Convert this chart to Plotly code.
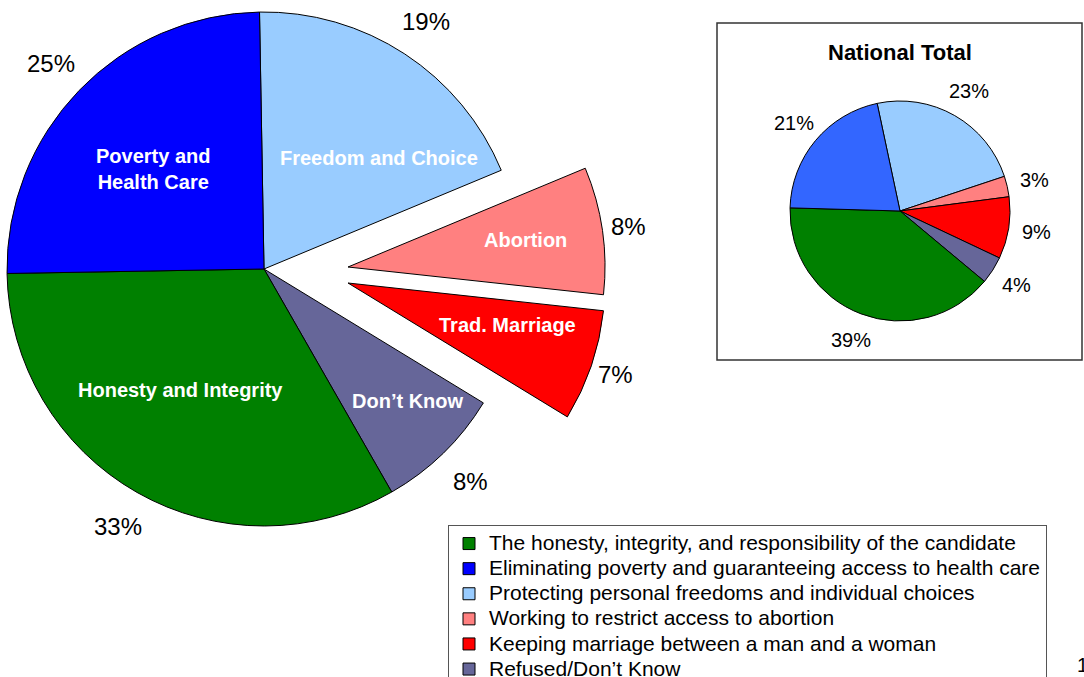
import math
import plotly.graph_objects as go

W, H = 1084, 677
FONT = "Liberation Sans, Arial, sans-serif"
CLEAR = "rgba(0,0,0,0)"

# Answer categories, in clockwise slice order from 12 o'clock
categories = [
    "Protecting personal freedoms and individual choices",
    "Working to restrict access to abortion",
    "Keeping marriage between a man and a woman",
    "Refused/Don\u2019t Know",
    "The honesty, integrity, and responsibility of the candidate",
    "Eliminating poverty and guaranteeing access to health care",
]
short_names = [
    "Freedom and Choice",
    "Abortion",
    "Trad. Marriage",
    "Don\u2019t Know",
    "Honesty and Integrity",
    "Poverty and<br>Health Care",
]

# Group results (large pie), percent
group_values = [19, 8, 7, 8, 33, 25]
group_colors = ["#99CCFF", "#FF8080", "#FF0000", "#666699", "#008000", "#0000FF"]

# National total (small pie), percent
national_values = [23, 3, 9, 4, 39, 21]
national_colors = ["#99CCFF", "#FF8080", "#FF0000", "#666699", "#008000", "#3366FF"]

# Legend order and swatch colours
legend_order = [4, 5, 0, 1, 2, 3]
legend_colors = ["#99CCFF", "#FF8080", "#FF0000", "#666699", "#008000", "#0000FF"]

# Geometry (pixels): large pie centre/radius, exploded slice centres, small pie
BIG_R = 257
BIG_ROT = -1
big_centre = (264, 269)
exploded = {1: (348, 267), 2: (348, 283)}
SMALL_R = 110
SMALL_ROT = -12
small_centre = (900, 211)

# Name label placement inside each slice: (radius fraction, angle offset in degrees)
name_place = [(0.62, 12.8), (0.70, -0.4), (0.64, -4.0), (0.76, -3.3), (0.57, 5.0), (0.58, -2.0)]
# Distance of percentage labels beyond the rim (px)
BIG_GAP, EXPLODED_GAP, SMALL_GAP = 39, 26, 28


def domain_px(cx, cy, r):
    """Pie domain (paper fractions) for a circle centred at (cx, cy) px with radius r px."""
    return dict(x=[(cx - r) / W, (cx + r) / W], y=[1 - (cy + r) / H, 1 - (cy - r) / H])


def mid_angles(values, rotation):
    """Clockwise mid-angle of each slice, degrees from 12 o'clock."""
    total = sum(values)
    mids, acc = [], 0.0
    for v in values:
        mids.append(rotation + 360.0 * (acc + v / 2.0) / total)
        acc += v
    return mids


def polar_paper(centre, dist, angle_deg):
    a = math.radians(angle_deg)
    px = centre[0] + dist * math.sin(a)
    py = centre[1] - dist * math.cos(a)
    return px / W, 1 - py / H


fig = go.Figure()


def add_pie(values, colors, keep, dom, rotation):
    n = len(values)
    shown = [i in keep for i in range(n)]
    fig.add_trace(go.Pie(
        labels=categories,
        values=values,
        sort=False,
        direction="clockwise",
        rotation=rotation,
        domain=dom,
        marker=dict(
            colors=[colors[i] if shown[i] else CLEAR for i in range(n)],
            line=dict(color="black", width=[1 if shown[i] else 0 for i in range(n)]),
        ),
        textinfo="none",
        showlegend=False,
        hoverinfo="skip",
    ))


# Large pie body (exploded slices left out)
add_pie(group_values, group_colors, {0, 3, 4, 5}, domain_px(*big_centre, BIG_R), BIG_ROT)
# Exploded slices, each drawn on its own displaced pie
for idx, centre in exploded.items():
    add_pie(group_values, group_colors, {idx}, domain_px(*centre, BIG_R), BIG_ROT)
# Small pie: national total
add_pie(national_values, national_colors, set(range(6)), domain_px(*small_centre, SMALL_R), SMALL_ROT)

annotations = []

# Slice names and percentages for the large pie
for i, mid in enumerate(mid_angles(group_values, BIG_ROT)):
    centre = exploded.get(i, big_centre)
    frac, offset = name_place[i]
    x, y = polar_paper(centre, frac * BIG_R, mid + offset)
    annotations.append(dict(
        text=f"<b>{short_names[i]}</b>", x=x, y=y, xref="paper", yref="paper",
        xanchor="center", yanchor="middle", showarrow=False,
        font=dict(family=FONT, size=20, color="white"),
    ))
    gap = EXPLODED_GAP if i in exploded else BIG_GAP
    x, y = polar_paper(centre, BIG_R + gap, mid)
    annotations.append(dict(
        text=f"{group_values[i]}%", x=x, y=y, xref="paper", yref="paper",
        xanchor="center", yanchor="middle", showarrow=False,
        font=dict(family=FONT, size=24, color="black"),
    ))

# Percentages for the small pie
for i, mid in enumerate(mid_angles(national_values, SMALL_ROT)):
    x, y = polar_paper(small_centre, SMALL_R + SMALL_GAP, mid)
    annotations.append(dict(
        text=f"{national_values[i]}%", x=x, y=y, xref="paper", yref="paper",
        xanchor="center", yanchor="middle", showarrow=False,
        font=dict(family=FONT, size=20, color="black"),
    ))

annotations += [
    dict(text="<b>National Total</b>", x=900 / W, y=1 - 52 / H, xref="paper", yref="paper",
         xanchor="center", yanchor="middle", showarrow=False,
         font=dict(family=FONT, size=22, color="black")),
    dict(text="1", x=1075 / W, y=1 - 665 / H, xref="paper", yref="paper",
         xanchor="left", yanchor="middle", showarrow=False,
         font=dict(family=FONT, size=20, color="black")),
]

# Legend entries
for idx in legend_order:
    fig.add_trace(go.Scatter(
        x=[None], y=[None], mode="markers",
        marker=dict(symbol="square", size=12, color=legend_colors[idx],
                    line=dict(color="black", width=1)),
        name=f"<span style='font-size:21px'>{categories[idx]}</span>",
        showlegend=True, hoverinfo="skip",
    ))

fig.update_layout(
    width=W, height=H,
    margin=dict(l=0, r=0, t=0, b=0, autoexpand=False),
    paper_bgcolor="white", plot_bgcolor="white",
    font=dict(family=FONT, color="black"),
    xaxis=dict(visible=False), yaxis=dict(visible=False),
    legend=dict(
        x=448 / W, y=1 - 525 / H, xanchor="left", yanchor="top",
        bordercolor="#555555", borderwidth=1, bgcolor="white",
        font=dict(family=FONT, size=17, color="black"),
        tracegroupgap=0, itemclick=False, itemdoubleclick=False,
    ),
    shapes=[dict(type="rect", xref="paper", yref="paper",
                 x0=717 / W, x1=1082 / W, y0=1 - 360 / H, y1=1 - 23 / H,
                 line=dict(color="#333333", width=1.5), layer="below")],
    annotations=annotations,
)

fig.write_html("out.html")
